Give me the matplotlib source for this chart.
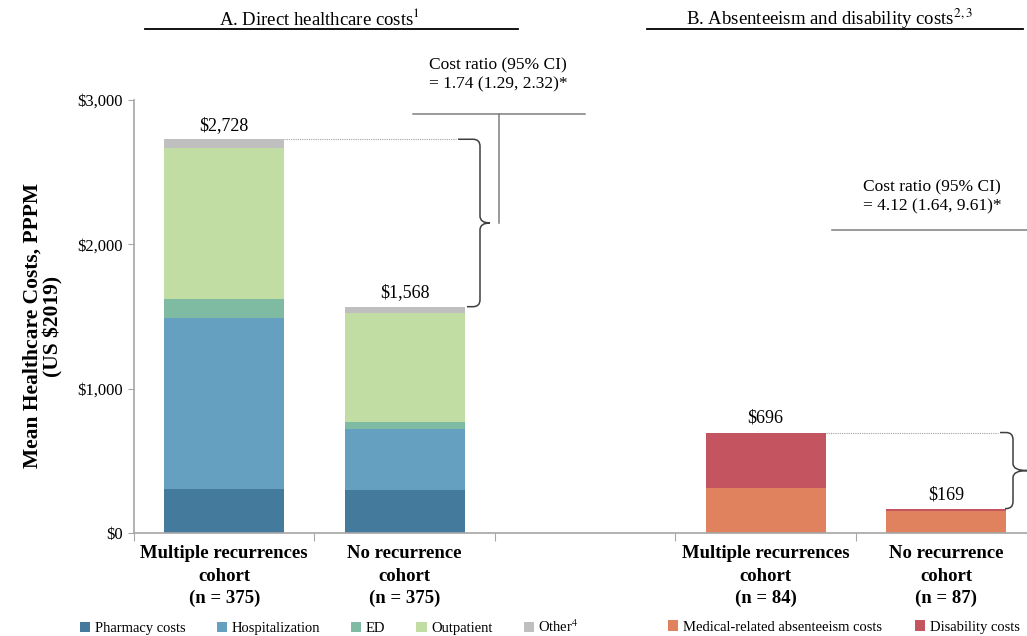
import matplotlib
matplotlib.use("Agg")
import matplotlib.pyplot as plt
from matplotlib.path import Path
from matplotlib.patches import PathPatch

plt.rcParams["font.family"] = ["Liberation Serif", "DejaVu Serif"]
plt.rcParams["mathtext.fontset"] = "stix"

# ---- data (mean PPPM cost, US $2019) ----
cat_labels = ["Multiple recurrences\ncohort\n(n = 375)", "No recurrence\ncohort\n(n = 375)", "",
              "Multiple recurrences\ncohort\n(n = 84)", "No recurrence\ncohort\n(n = 87)"]
pos_a = [0, 1]
pos_b = [3, 4]

pharmacy = [305, 298]
hospitalization = [1185, 423]
ed = [132, 48]
outpatient = [1046, 756]
other = [60, 43]
totals_a = [2728, 1568]

absenteeism = [312, 151]
disability = [384, 18]
totals_b = [696, 169]

ratio_a = "Cost ratio (95% CI)\n= 1.74 (1.29, 2.32)*"
ratio_b = "Cost ratio (95% CI)\n= 4.12 (1.64, 9.61)*"

seg_a = [("Pharmacy costs", pharmacy, "#447B9C"),
         ("Hospitalization", hospitalization, "#66A0C0"),
         ("ED", ed, "#7FBBA3"),
         ("Outpatient", outpatient, "#C1DDA3"),
         ("Other$^4$", other, "#BFBFBF")]
seg_b = [("Medical-related absenteeism costs", absenteeism, "#E0825D"),
         ("Disability costs", disability, "#C4545F")]

W, H = 1027, 636
fig = plt.figure(figsize=(W / 100, H / 100), dpi=100)
ax = fig.add_axes([134 / W, 103 / H, 893 / W, 433 / H])

XMIN, XMAX = -0.5, 4.449
YMAX = 3000
ax.set_xlim(XMIN, XMAX)
ax.set_ylim(0, YMAX)

bw = 0.665
handles_a, handles_b = [], []
bottom = [0, 0]
for name, vals, col in seg_a:
    h = ax.bar(pos_a, vals, bw, bottom=bottom, color=col, label=name, linewidth=0)
    handles_a.append(h)
    bottom = [b + v for b, v in zip(bottom, vals)]
bottom = [0, 0]
for name, vals, col in seg_b:
    h = ax.bar(pos_b, vals, bw, bottom=bottom, color=col, label=name, linewidth=0)
    handles_b.append(h)
    bottom = [b + v for b, v in zip(bottom, vals)]

for x, t in zip(pos_a + pos_b, totals_a + totals_b):
    ax.annotate(f"${t:,}", (x, t), xytext=(0, 4), textcoords="offset points",
                ha="center", va="bottom", fontsize=13)

# axes styling
for s in ["top", "right"]:
    ax.spines[s].set_visible(False)
for s in ["left", "bottom"]:
    ax.spines[s].set_color("#A6A6A6")
    ax.spines[s].set_linewidth(1.2)
ax.set_yticks([0, 1000, 2000, 3000])
ax.set_yticklabels([f"${v:,}" for v in [0, 1000, 2000, 3000]], fontsize=12)
ax.tick_params(axis="y", length=4, color="#A6A6A6", pad=4)
ax.set_xticks([-0.5, 0.5, 1.5, 2.5, 3.5])
ax.set_xticklabels([])
ax.tick_params(axis="x", which="major", length=6, color="#A6A6A6")
ax.set_xticks(range(5), minor=True)
ax.set_xticklabels(cat_labels, minor=True, fontsize=13.5, fontweight="bold",
                   linespacing=1.4)
ax.tick_params(axis="x", which="minor", length=0, pad=9)

fig.text(43 / W, 1 - 326 / H, "Mean Healthcare Costs, PPPM\n(US $2019)",
         rotation=90, ha="center", va="center", fontsize=15.5, fontweight="bold",
         linespacing=1.1)

# ---- pixel <-> data helpers ----
ppx = 893 / (XMAX - XMIN)       # px per x unit
ppy = 433 / YMAX                # px per $


def brace(x0_top, x0_bot, xv, xtip, ytop, ybot, r=7):
    rx, ry = r / ppx, r / ppy
    ym = (ytop + ybot) / 2
    verts = [(x0_top, ytop), (xv - rx, ytop), (xv, ytop), (xv, ytop - ry),
             (xv, ym + ry), (xv, ym), (xtip, ym),
             (xv, ym), (xv, ym - ry),
             (xv, ybot + ry), (xv, ybot), (xv - rx, ybot), (x0_bot, ybot)]
    codes = [Path.MOVETO, Path.LINETO, Path.CURVE3, Path.CURVE3,
             Path.LINETO, Path.CURVE3, Path.CURVE3,
             Path.CURVE3, Path.CURVE3,
             Path.LINETO, Path.CURVE3, Path.CURVE3, Path.LINETO]
    ax.add_patch(PathPatch(Path(verts, codes), fill=False, color="#3F3F3F",
                           lw=1.1, clip_on=False))


def px2x(px):
    return XMIN + (px - 134) / ppx


def py2y(py):
    return (533 - py) / ppy


# panel A annotations
ax.plot([pos_a[0] + bw / 2, px2x(456)], [totals_a[0]] * 2, ls=(0, (1, 1)),
        color="#A0A0A0", lw=0.8, clip_on=False)
brace(px2x(458), px2x(467), px2x(480), px2x(490), totals_a[0], totals_a[1])
mid_a = sum(totals_a) / 2
ax.plot([px2x(499), px2x(499)], [mid_a, py2y(114)], color="#7F7F7F", lw=1.1, clip_on=False)
ax.plot([px2x(413), px2x(585)], [py2y(114)] * 2, color="#7F7F7F", lw=1.1, clip_on=False)
ax.text(px2x(498), py2y(75), ratio_a, ha="center", va="center", fontsize=12.5,
        linespacing=1.3)

# panel B annotations
ax.plot([pos_b[0] + bw / 2, px2x(998)], [totals_b[0]] * 2, ls=(0, (1, 1)),
        color="#A0A0A0", lw=0.8, clip_on=False)
brace(px2x(1000), px2x(1005), px2x(1013), px2x(1027), totals_b[0], totals_b[1])
ax.plot([px2x(832), px2x(1027)], [py2y(230)] * 2, color="#7F7F7F", lw=1.1, clip_on=False)
ax.text(px2x(932), py2y(197), ratio_b, ha="center", va="center", fontsize=12.5,
        linespacing=1.3)

# panel titles with underline
for cx, x0, x1, title in [(320, 145, 518, "A. Direct healthcare costs$^1$"),
                          (829, 647, 1023, "B. Absenteeism and disability costs$^{2,3}$")]:
    fig.text(cx / W, 1 - 25 / H, title, ha="center", va="baseline", fontsize=13.5)
    fig.add_artist(plt.Line2D([x0 / W, x1 / W], [1 - 29 / H] * 2, color="black", lw=1.3))

# legends
leg_kw = dict(frameon=False, fontsize=10.5, handlelength=0.7, handleheight=0.7,
              handletextpad=0.3, borderpad=0, borderaxespad=0, loc="center left")
fig.legend(handles_a, [s[0] for s in seg_a], ncol=5, columnspacing=2.15,
           bbox_to_anchor=(80 / W, 1 - 627 / H), **leg_kw)
fig.legend(handles_b, [s[0] for s in seg_b], ncol=2, columnspacing=2.3,
           bbox_to_anchor=(668 / W, 1 - 627 / H), **leg_kw)

fig.savefig("out.png", dpi=100)
